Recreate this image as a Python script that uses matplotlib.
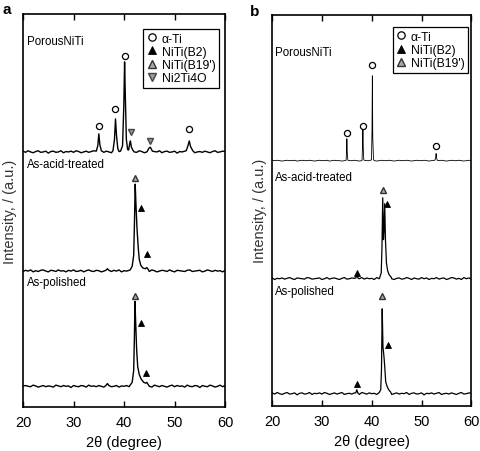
#======================================================================
# XRD patterns of porous / acid-treated / polished NiTi (panels a, b)
#======================================================================
import matplotlib
matplotlib.use('Agg')
import matplotlib.pyplot as plt
import numpy as np

plt.rcParams['font.family'] = ['Liberation Sans', 'DejaVu Sans']

#--------------------------------------------------------------------------
# Data (2theta in degree, intensity in a.u.)
#--------------------------------------------------------------------------
noise_1 = [0.2,-0.1,0.3,0.0,-0.2,0.1,0.3,-0.1,0.0,0.2,-0.3,0.1,0.2,-0.1,0.0,0.3,
           -0.2,0.1,0.0,0.2,-0.1,0.3,0.1,-0.2,0.0,0.2,-0.1,0.1,0.3,-0.2,0.0,0.1,
           -0.1,0.2,0.0,-0.2,0.3,0.1,-0.1,0.2,0.0,0.1,-0.2,0.2,0.0,-0.1,0.3,0.1,
           -0.2,0.0,0.2,-0.1,0.1,0.0,0.3,-0.2,0.1,0.2,-0.1,0.0,0.2,-0.3,0.1,0.0,
           0.2,-0.1,0.1,0.3,-0.2,0.0,0.1,-0.1,0.2,0.0,-0.2,0.1,0.3,-0.1,0.0,0.2,0.1]
noise_2 = [-0.1,0.2,0.0,0.3,-0.2,0.1,-0.1,0.2,0.3,0.0,-0.2,0.2,0.1,-0.1,0.3,0.0,
           0.1,-0.2,0.2,0.0,0.3,-0.1,0.0,0.2,-0.2,0.1,0.3,0.0,-0.1,0.2,0.1,-0.2,
           0.0,0.3,0.1,-0.1,0.2,0.0,0.3,-0.2,0.1,0.0,0.2,-0.1,0.3,0.0,-0.2,0.1,
           0.2,0.0,-0.1,0.3,0.1,-0.2,0.0,0.2,0.1,-0.1,0.3,0.0,-0.2,0.2,0.1,0.0,
           -0.1,0.2,0.3,-0.1,0.0,0.1,0.2,-0.2,0.0,0.3,0.1,-0.1,0.2,0.0,0.1,-0.2,0.2]
smooth_b = [0.1,0.0,0.1,0.0,-0.1,0.0,0.1,0.0,0.0,0.1,-0.1,0.0,0.1,0.0,0.0,0.1,
            0.0,-0.1,0.0,0.1,0.0,0.0,0.1,-0.1,0.0,0.1,0.0,0.0,-0.1,0.0,0.1,0.0,
            0.0,0.1,0.0,-0.1,0.0,0.1,0.0,0.0,0.1,0.0,-0.1,0.0,0.1,0.0,0.0,0.1,
            0.0,-0.1,0.0,0.1,0.0,0.0,0.1,0.0,-0.1,0.0,0.1,0.0,0.0,0.1,0.0,-0.1,
            0.0,0.1,0.0,0.0,0.1,0.0,-0.1,0.0,0.1,0.0,0.0,0.1,0.0,-0.1,0.0,0.1,0.0]

# peaks as (2theta list, intensity list)
peaks_a_porous = [
    ([34.5,34.8,35.0,35.2,35.5],[0.2,1.6,4.6,1.9,0.3]),
    ([37.8,38.1,38.3,38.5,38.75,39.0],[0.3,3.2,8.4,4.2,0.9,0.1]),
    ([39.3,39.7,39.95,40.1,40.25,40.45,40.7],[0.2,1.6,12.0,22.9,14.0,3.2,0.6]),
    ([40.9,41.1,41.25,41.45,41.8],[0.5,2.0,2.8,1.2,0.3]),
    ([44.6,44.95,45.2,45.6],[0.2,1.0,1.2,0.2]),
    ([52.3,52.65,52.9,53.15,53.6],[0.3,1.6,2.8,1.4,0.3])]
peaks_a_acid = [
    ([36.4,36.7,37.0],[0.2,0.6,0.2]),
    ([41.2,41.6,41.9,42.05,42.2,42.35,42.55,42.8,43.0,43.3,43.7,44.2,44.5,44.8],
     [0.3,1.2,4.0,12.0,22.1,17.0,11.0,6.0,3.0,1.5,0.8,0.6,0.9,0.4])]
peaks_a_polished = [
    ([36.4,36.7,37.0],[0.2,0.7,0.2]),
    ([41.2,41.6,41.9,42.05,42.15,42.3,42.5,42.7,43.0,43.4,43.9,44.3,44.5,44.8],
     [0.3,1.0,4.0,13.0,21.6,16.0,9.0,5.0,3.0,1.8,1.0,0.8,1.0,0.4])]

peaks_b_porous = [
    ([34.85,34.95,35.0,35.08,35.2],[0.1,3.0,5.6,2.0,0.1]),
    ([38.05,38.15,38.22,38.3,38.4],[0.1,4.0,7.9,3.0,0.2]),
    ([39.95,40.05,40.12,40.2,40.35],[0.2,8.0,21.7,6.0,0.3]),
    ([52.7,52.85,52.92,53.0,53.15],[0.1,1.0,1.8,0.8,0.1])]
peaks_b_acid = [
    ([36.8,37.0,37.2],[0.2,0.9,0.2]),
    ([41.6,41.9,42.05,42.2,42.35,42.45,42.6,42.75,42.95,43.2,43.5,43.9],
     [0.3,1.5,8.0,20.7,10.0,12.0,19.2,10.0,4.0,2.0,1.0,0.4])]
peaks_b_polished = [
    ([36.8,37.0,37.2],[0.2,1.0,0.2]),
    ([41.5,41.8,41.95,42.1,42.25,42.45,42.6,42.8,43.1,43.4,43.8],
     [0.3,1.0,6.0,21.7,12.0,9.5,7.0,3.0,1.8,1.0,0.4])]

offsets_a = [64.9, 34.6, 5.3]
offsets_b = [62.7, 32.5, 3.1]
sample_names = ['PorousNiTi', 'As-acid-treated', 'As-polished']
name_y_a = [93.1, 61.8, 31.8]
name_y_b = [90.5, 58.6, 29.4]

# markers: (2theta list, y list)
alpha_ti_a = ([35.0, 38.3, 40.2, 52.9], [71.5, 75.8, 89.3, 70.7])
ni2ti4o_a = ([41.3, 45.2], [70.0, 67.7])
b19_a = ([42.2, 42.2], [58.3, 28.2])
b2_a = ([43.4, 44.6, 43.4, 44.4], [50.6, 38.9, 21.4, 8.7])

alpha_ti_b = ([35.0, 38.2, 40.1, 52.9], [69.8, 71.6, 87.2, 66.5])
b19_b = ([42.2, 42.1], [55.2, 28.1])
b2_b = ([43.0, 37.0, 43.3, 37.0], [51.7, 34.0, 15.6, 5.6])

#--------------------------------------------------------------------------
# helper: merge baseline points with peak points
#--------------------------------------------------------------------------
def build_trace(base, peaks):
    x = np.linspace(20, 60, len(base))
    y = np.array(base, dtype=float)
    keep = np.ones(len(x), bool)
    for px, py in peaks:
        keep &= (x < min(px)) | (x > max(px))
    xs = np.concatenate([x[keep]] + [np.array(p[0]) for p in peaks])
    ys = np.concatenate([y[keep]] + [np.array(p[1]) for p in peaks])
    order = np.argsort(xs)
    return xs[order], ys[order]

def style_axes(ax):
    ax.set_xlim(20, 60)
    ax.set_ylim(0, 100)
    ax.set_xticks([20, 30, 40, 50, 60])
    ax.set_yticks([])
    ax.tick_params(axis='x', direction='in', top=True, length=4, width=1,
                   labelsize=10.5, pad=6)
    for s in ax.spines.values():
        s.set_linewidth(1.2)
    ax.set_xlabel('2θ (degree)', fontsize=10.5, labelpad=4)
    ax.set_ylabel('Intensity, / (a.u.)', fontsize=10.5, color='#333333', labelpad=4)

def add_legend(ax, anchor):
    leg = ax.legend(loc='upper right', bbox_to_anchor=anchor, fontsize=8.8,
                    frameon=True, fancybox=False, edgecolor='black', framealpha=1,
                    handlelength=0.8, handletextpad=0.4, borderpad=0.3,
                    labelspacing=0.1, borderaxespad=0, markerscale=1.2)
    leg.get_frame().set_linewidth(0.9)

mk_circle = dict(marker='o', ls='none', ms=4.4, mfc='white', mec='black', mew=0.9)
mk_b2 = dict(marker='^', ls='none', ms=4.8, mfc='black', mec='black', mew=0.6)
mk_b19 = dict(marker='^', ls='none', ms=5.0, mfc='#a8a8a8', mec='#333333', mew=1.0)
mk_ni2 = dict(marker='v', ls='none', ms=5.0, mfc='#999999', mec='#444444', mew=1.0)

#--------------------------------------------------------------------------
# Plotting
#--------------------------------------------------------------------------
fig = plt.figure(figsize=(4.8, 4.52), dpi=100)
ax_a = fig.add_axes([0.048, 0.097, 0.421, 0.870])
ax_b = fig.add_axes([0.567, 0.100, 0.415, 0.865])

# panel a
bases_a = [noise_1, noise_2, noise_1[::-1]]
peaks_a = [peaks_a_porous, peaks_a_acid, peaks_a_polished]
for base, pk, off, name, ny in zip(bases_a, peaks_a, offsets_a, sample_names, name_y_a):
    x, y = build_trace(base, pk)
    ax_a.plot(x, y + off, color='black', lw=1.0)
    ax_a.text(20.8, ny, name, fontsize=8.3, va='center', ha='left')
ax_a.plot(*alpha_ti_a, **mk_circle, label='α-Ti')
ax_a.plot(*b2_a, **mk_b2, label='NiTi(B2)')
ax_a.plot(*b19_a, **mk_b19, label="NiTi(B19')")
ax_a.plot(*ni2ti4o_a, **mk_ni2, label='Ni2Ti4O')
style_axes(ax_a)
add_legend(ax_a, (0.97, 0.962))

# panel b
bases_b = [smooth_b, noise_2[::-1], noise_1]
peaks_b = [peaks_b_porous, peaks_b_acid, peaks_b_polished]
widths_b = [0.6, 0.9, 0.9]
for base, pk, off, name, ny, lw in zip(bases_b, peaks_b, offsets_b, sample_names,
                                       name_y_b, widths_b):
    x, y = build_trace(base, pk)
    ax_b.plot(x, y + off, color='black', lw=lw)
    ax_b.text(20.6, ny, name, fontsize=8.3, va='center', ha='left')
ax_b.plot(*alpha_ti_b, **mk_circle, label='α-Ti')
ax_b.plot(*b2_b, **mk_b2, label='NiTi(B2)')
ax_b.plot(*b19_b, **mk_b19, label="NiTi(B19')")
style_axes(ax_b)
add_legend(ax_b, (0.985, 0.969))

fig.text(0.006, 0.978, 'a', fontsize=11, fontweight='bold', va='center')
fig.text(0.521, 0.973, 'b', fontsize=11, fontweight='bold', va='center')

fig.savefig('out.png', dpi=100)
print("Completed Successfully ...")
